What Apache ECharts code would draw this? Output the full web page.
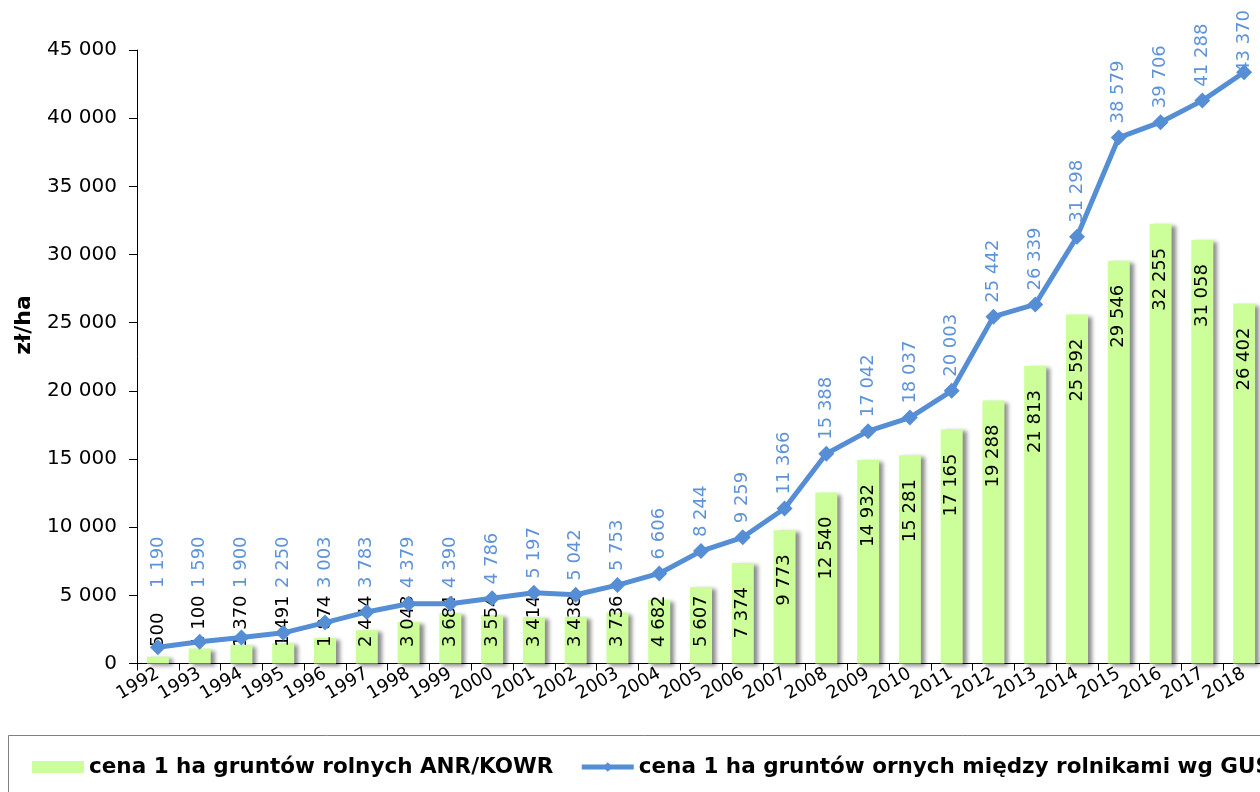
<!DOCTYPE html>
<html>
<head>
<meta charset="utf-8">
<script src="https://cdn.jsdelivr.net/npm/echarts@6/dist/echarts.min.js"></script>
<style>
html, body { margin: 0; padding: 0; overflow: hidden; background: #fff; }
#main { width: 1280px; height: 792px; }
</style>
</head>
<body>
<div id="main"></div>
<script>
// lata
var years = ['1992', '1993', '1994', '1995', '1996', '1997', '1998', '1999', '2000', '2001', '2002', '2003', '2004',
  '2005', '2006', '2007', '2008', '2009', '2010', '2011', '2012', '2013', '2014', '2015', '2016', '2017', '2018'];
// cena 1 ha gruntów rolnych ANR/KOWR
var anrKowr = [500, 1100, 1370, 1491, 1874, 2444, 3048, 3684, 3554, 3414, 3438, 3736, 4682,
  5607, 7374, 9773, 12540, 14932, 15281, 17165, 19288, 21813, 25592, 29546, 32255, 31058, 26402];
// cena 1 ha gruntów ornych między rolnikami wg GUS
var gus = [1190, 1590, 1900, 2250, 3003, 3783, 4379, 4390, 4786, 5197, 5042, 5753, 6606,
  8244, 9259, 11366, 15388, 17042, 18037, 20003, 25442, 26339, 31298, 38579, 39706, 41288, 43370];
var seriesNames = ['cena 1 ha gruntów rolnych ANR/KOWR', 'cena 1 ha gruntów ornych między rolnikami wg GUS'];

var FONT = '"DejaVu Sans", Verdana, sans-serif';
var BLUE = '#558ed5';

function fmt(v) {
  return String(v).replace(/\B(?=(\d{3})+(?!\d))/g, ' ');
}

var chart = echarts.init(document.getElementById('main'));
var option = {
  animation: false,
  textStyle: { fontFamily: FONT },
  grid: { left: 137, right: 15, top: 50, bottom: 128.5 },
  graphic: [
    {
      type: 'rect', z: -10,
      shape: { x: 8.5, y: 735.5, width: 1400, height: 100 },
      style: { fill: 'none', stroke: '#808080', lineWidth: 1 }
    },
    {
      type: 'text', x: 24, y: 325, rotation: Math.PI / 2,
      style: { text: 'zł/ha', font: 'bold 22px ' + FONT, fill: '#000', align: 'center', verticalAlign: 'middle' }
    }
  ],
  legend: {
    left: 32, top: 756, padding: 0,
    itemWidth: 52, itemHeight: 12, itemGap: 26,
    textStyle: { fontSize: 21.5, fontWeight: 'bold', color: '#000', fontFamily: FONT },
    data: [
      { name: seriesNames[0], icon: 'rect' },
      { name: seriesNames[1], lineStyle: { width: 5, color: BLUE } }
    ]
  },
  xAxis: {
    type: 'category',
    data: years,
    axisLine: { lineStyle: { color: '#000', width: 1 } },
    axisTick: { show: true, length: 7, lineStyle: { color: '#000' } },
    axisLabel: { interval: 0, rotate: 30, fontSize: 18, color: '#000', margin: 9 }
  },
  yAxis: {
    type: 'value',
    min: 0, max: 45000, interval: 5000,
    splitLine: { show: false },
    axisLine: { show: true, lineStyle: { color: '#000', width: 1 } },
    axisTick: { show: true, length: 8, lineStyle: { color: '#000' } },
    axisLabel: { fontSize: 20, color: '#000', margin: 20, formatter: fmt }
  },
  series: [
    {
      name: seriesNames[0],
      type: 'bar',
      data: anrKowr,
      barWidth: 22,
      itemStyle: {
        color: '#ccff99',
        shadowColor: 'rgba(0,0,0,0.45)', shadowBlur: 4, shadowOffsetX: 4, shadowOffsetY: 2
      },
      label: {
        show: true, position: 'insideBottom', rotate: 90, align: 'left', verticalAlign: 'middle',
        fontSize: 18, color: '#000',
        formatter: function (p) { return fmt(p.value); }
      },
      labelLayout: function (p) {
        var len = p.labelRect.height;
        var bottom = Math.min(p.rect.y + 24 + len, 647);
        return { x: p.rect.x + p.rect.width / 2, y: bottom, align: 'left', verticalAlign: 'middle' };
      }
    },
    {
      name: seriesNames[1],
      type: 'line',
      data: gus,
      symbol: 'diamond',
      symbolSize: 16,
      lineStyle: { color: BLUE, width: 5 },
      itemStyle: { color: BLUE },
      label: {
        show: true, position: 'top', rotate: 90, align: 'left', verticalAlign: 'middle',
        fontSize: 18, color: '#5f93d8',
        formatter: function (p) { return fmt(p.value); }
      },
      labelLayout: function (p) {
        var cy = p.rect.y + p.rect.height / 2;
        var len = p.labelRect.height;
        var bottom = Math.min(cy - 14, 588);
        if (bottom - len < 10) bottom = len + 10;
        return { x: p.rect.x + p.rect.width / 2, y: bottom, align: 'left', verticalAlign: 'middle' };
      }
    }
  ]
};
chart.setOption(option);
</script>
</body>
</html>
